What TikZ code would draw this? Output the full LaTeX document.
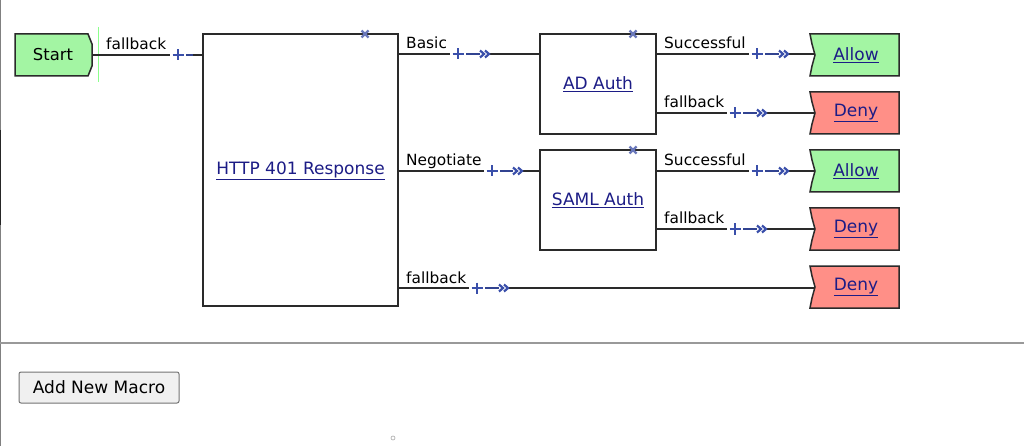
\documentclass[tikz,border=0pt]{standalone}
\usepackage{fontspec}
\setmainfont{DejaVu Sans}
\definecolor{okgreen}{HTML}{A3F5A3}
\definecolor{nogred}{HTML}{FF8F87}
\definecolor{mkblue}{HTML}{3A4FAA}
\definecolor{xblue}{HTML}{6A78BA}
\definecolor{linkblue}{HTML}{1C1C86}
\definecolor{edge}{HTML}{2A2A2A}
\tikzset{
  wireline/.style={draw=edge, line width=1.4pt},
  bwireline/.style={draw=mkblue!85!black, line width=1.4pt},
  mkline/.style={draw=mkblue, line width=2.2pt, line cap=butt},
  xline/.style={draw=xblue, line width=2.2pt},
  boxline/.style={draw=edge, line width=1.5pt},
  linktext/.style={text=linkblue, font=\fontsize{17}{20}\selectfont, inner sep=0pt},
  lbl/.style={font=\fontsize{15.4}{18}\selectfont, inner sep=0pt, anchor=base west, text=black},
  mk/.style={inner sep=0pt, minimum width=16pt, minimum height=12pt},
  ck/.style={inner sep=0pt, minimum width=10pt, minimum height=8pt},
}
\newcommand\resbox[4]{%
  \draw[boxline, fill=#3] (810,#2) -- (899,#2) -- (899,#2+42) -- (810,#2+42) -- (812,#2+32) -- (815,#2+21) -- (812,#2+10) -- cycle;
  \node[linktext] (#1) at (856,#2+21) {\underline{#4}};
  \coordinate (#1in) at (815,#2+21);}
\newcommand\wirepc[6]{%
  \node[mk] (p#6) at (#2,#4) {};
  \node[ck] (c#6) at (#3,#4) {};
  \draw[wireline] (#1) -- (p#6.west);
  \draw[bwireline] (p#6.east) -- (c#6.west);
  \draw[wireline] (c#6.east) -- (c#6.east -| #5);
  \draw[mkline] (p#6.center) +(-5.5,0) -- +(5.5,0) +(0,-5.5) -- +(0,5.5);
  \draw[mkline, line join=miter] (c#6.center) +(-5,-3.5) -- +(-1,0) -- +(-5,3.5) +(0,-3.5) -- +(4,0) -- +(0,3.5);}
\newcommand\xmark[2]{%
  \draw[xline] (#1,#2) +(-3.5,-3.5) -- +(3.5,3.5) +(-3.5,3.5) -- +(3.5,-3.5);}
\begin{document}
\begin{tikzpicture}[x=1pt,y=-1pt]
\useasboundingbox (0,0) rectangle (1024,446);
\fill[white] (0,0) rectangle (1024,446);
% left border
\draw[draw=black!50, line width=1pt] (0.5,0) -- (0.5,446);
\draw[draw=black!85, line width=1.2pt] (0.6,130) -- (0.6,225);
% start
\draw[boxline, fill=okgreen] (15,34) -- (88,34) -- (92,44) -- (92,66) -- (88,76) -- (15,76) -- cycle;
\node[font=\fontsize{16.4}{20}\selectfont, inner sep=0pt] (start) at (53,55) {Start};
\coordinate (startout) at (93,55);
\draw[draw=green!45!white, line width=0.8pt] (98.5,27) -- (98.5,82);
% main boxes
\node[boxline, fill=white, minimum width=195, minimum height=272, inner sep=0pt] (http) at (300.5,170) {};
\node[linktext] (httpl) at (300.5,171) {\underline{HTTP 401 Response}};
\node[boxline, fill=white, minimum width=116, minimum height=100, inner sep=0pt] (ad) at (598,84) {};
\node[linktext] (adl) at (598,84) {\underline{AD Auth}};
\node[boxline, fill=white, minimum width=116, minimum height=100, inner sep=0pt] (saml) at (598,200) {};
\node[linktext] (samll) at (598,200) {\underline{SAML Auth}};
\xmark{365}{34}
\xmark{633}{34}
\xmark{633}{150}
% result boxes
\resbox{allowa}{34}{okgreen}{Allow}
\resbox{denya}{92}{nogred}{Deny}
\resbox{allowb}{150}{okgreen}{Allow}
\resbox{denyb}{208}{nogred}{Deny}
\resbox{denyc}{266}{nogred}{Deny}
% start connector
\node[mk] (p0) at (178,55) {};
\coordinate (httpin) at (203,55);
\coordinate (q0) at (193,55);
\draw[wireline] (startout) -- (p0.west);
\draw[bwireline] (p0.east) -- (q0);
\draw[wireline] (q0) -- (httpin);
\draw[mkline] (p0.center) +(-5.5,0) -- +(5.5,0) +(0,-5.5) -- +(0,5.5);
\node[lbl] (l0) at (106,50) {fallback};
% http outputs
\coordinate (hbasic) at (398,54);
\coordinate (hnego) at (398,171);
\coordinate (hfall) at (398,288);
\coordinate (adin) at (540,54);
\coordinate (samlin) at (540,171);
\wirepc{hbasic}{458}{485}{54}{adin}{1}
\wirepc{hnego}{492}{518}{171}{samlin}{2}
\wirepc{hfall}{477}{504}{288}{denycin}{3}
\node[lbl] (l1) at (406,49) {Basic};
\node[lbl] (l2) at (406,166) {Negotiate};
\node[lbl] (l3) at (406,283) {fallback};
% AD outputs
\coordinate (adsucc) at (656,54);
\coordinate (adfall) at (656,113);
\wirepc{adsucc}{757}{784}{54}{allowain}{4}
\wirepc{adfall}{735}{762}{113}{denyain}{5}
\node[lbl] (l4) at (664,49) {Successful};
\node[lbl] (l5) at (664,108) {fallback};
% SAML outputs
\coordinate (samlsucc) at (656,171);
\coordinate (samlfall) at (656,229);
\wirepc{samlsucc}{757}{784}{171}{allowbin}{6}
\wirepc{samlfall}{735}{762}{229}{denybin}{7}
\node[lbl] (l6) at (664,166) {Successful};
\node[lbl] (l7) at (664,224) {fallback};
% separator
\draw[draw=black!40, line width=2pt] (0,343) -- (1024,343);
% button
\node[draw=black!55, fill=black!6, rounded corners=2pt, line width=1pt, minimum width=160, minimum height=31, inner sep=0pt, font=\fontsize{17}{20}\selectfont] (btn) at (99,387.5) {Add New Macro};
\node[draw=black!35, circle, line width=0.6pt, minimum size=4, inner sep=0pt] (dot) at (393,438) {};
\end{tikzpicture}
\end{document}
